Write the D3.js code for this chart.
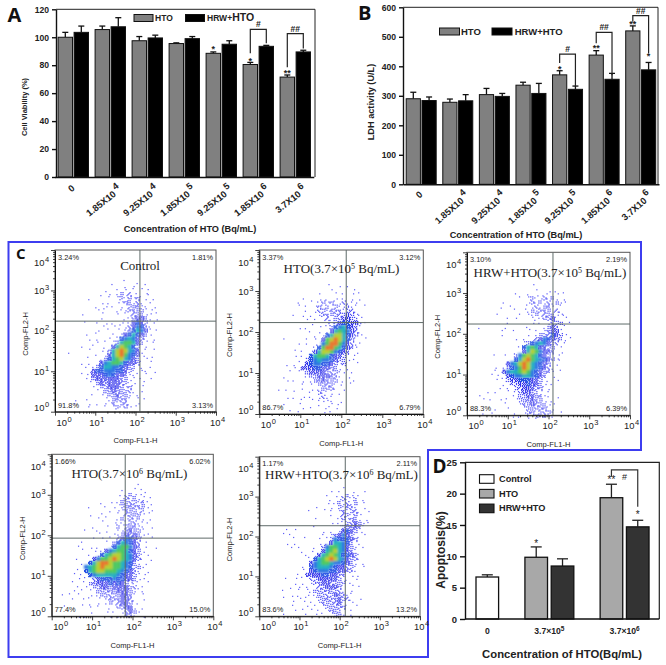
<!DOCTYPE html>
<html>
<head>
<meta charset="utf-8">
<script src="https://cdnjs.cloudflare.com/ajax/libs/d3/7.8.5/d3.min.js"></script>
<style>
  html, body { margin: 0; padding: 0; background: #fff; }
  svg { display: block; }
  text { font-family: "Liberation Sans", Arial, sans-serif; fill: #222; }
</style>
</head>
<body>
<svg id="fig" width="666" height="665"></svg>
<script>
// Panels A and B
const doseBase = ["0", "1.85X10", "9.25X10", "1.85X10", "9.25X10", "1.85X10", "3.7X10"];
const doseExp = ["", "4", "4", "5", "5", "6", "6"];

const viabilityHto = [100, 105.5, 97.5, 95.5, 88.5, 80.5, 71.5];
const viabilityHtoTop = [103.5, 108, 100.5, 96, 89.5, 82, 73];
const viabilityHrw = [103.5, 107.5, 99.5, 99, 95, 93.5, 89.5];
const viabilityHrwTop = [108, 114, 101.5, 100.5, 97.5, 94.2, 90.7];
const viabilityTicks = [0, 20, 40, 60, 80, 100, 120];
// group, serie, valeur du centre de l'étoile
const viabilityStars = [[4, 0, 92, "*"], [5, 0, 84, "*"], [6, 0, 75, "**"]];
// group, haut, bas gauche, bas droite, texte
const viabilityBrackets = [[5, 105.7, 88.6, 95.7, "#"], [6, 102.6, 78.6, 92, "##"]];

const ldhHto = [290, 278, 304, 336, 371, 438, 520];
const ldhHtoTop = [312, 289, 325, 346, 385, 453, 537];
const ldhHrw = [284, 283, 298, 308, 322, 356, 388];
const ldhHrwTop = [296, 304, 308, 342, 333, 376, 413];
const ldhTicks = [0, 100, 200, 300, 400, 500, 600];
const ldhStars = [[4, 0, 394, "*"], [5, 0, 466, "**"], [6, 0, 548, "**"], [6, 1, 438, "*"]];
const ldhBrackets = [[4, 441, 411, 333, "#"], [5, 515, 478, 370, "##"], [6, 572, 551, 445, "##"]];

// Panel D
const apoLabels = ["Control", "HTO", "HRW+HTO", "HTO", "HRW+HTO"];
const apoGroup = [0, 1, 1, 2, 2];
const apoValues = [6.7, 9.85, 8.45, 19.35, 14.7];
const apoTops = [7.05, 11.5, 9.6, 21.5, 15.75];
const apoTicks = [0, 5, 10, 15, 20, 25];
const apoGroupBase = ["0", "3.7×10", "3.7×10"];
const apoGroupExp = ["", "5", "6"];

// Panel C : textes
const flowTitles = [
  ["Control", "", ""],
  ["HTO(3.7×10", "5", " Bq/mL)"],
  ["HRW+HTO(3.7×10", "5", " Bq/mL)"],
  ["HTO(3.7×10", "6", " Bq/mL)"],
  ["HRW+HTO(3.7×10", "6", " Bq/mL)"]
];
const flowPct = [
  ["3.24%", "1.81%", "91.8%", "3.13%"],
  ["3.37%", "3.12%", "86.7%", "6.79%"],
  ["3.10%", "2.19%", "88.3%", "6.39%"],
  ["1.66%", "6.02%", "77.4%", "15.0%"],
  ["1.17%", "2.11%", "83.6%", "13.2%"]
];
// Position des quadrants en décades (FL1, FL2)
const flowGate = [[2.11, 2.24], [2.12, 2.23], [2.11, 2.24], [1.82, 1.93], [2.14, 2.27]];
// Origine des grilles de densité en décades (FL1 gauche, FL2 haut)
const flowOrigin = [[0.1, 3.26], [0.11, 3.27], [0.05, 3.32], [0.0, 3.37], [0.24, 3.39]];

// Densité lue à l'oeil sur l'image, cellules de 0.1 décade (. = vide, 9 = rouge)
const flowDensity = [
  [
    "................1..1.....",
    ".............1..1.1..1...",
    "...........1..1.1.1.1.1..",
    "..........1.1.1212.1.11..",
    ".......1....1.12121211.1.",
    "..........1.1.1122121.1..",
    ".........1.1.1.1122211.1.",
    ".........1.1..11122221.1.",
    ".....1....1...1.1122211.1",
    "..........1.....1123321.1",
    "......1..1.1.1.1.13432.1.",
    "...........1.1.11235421..",
    ".........1..1.1.1246531.1",
    "......1..1...1.13464321..",
    ".......1.1..1.14565321.1.",
    ".........1.1.126776321.1.",
    ".....1..1..1.3687642.1...",
    ".......1..1.26898653.1.1.",
    "..1......1.13689754311...",
    ".......1..1246786532.1.1.",
    ".....1.1..35677643321.1..",
    "......1.1246655432211.1..",
    ".......134455544321.11.1.",
    ".....1.1333454332111.1...",
    "......1.23333332211.1.1..",
    ".......1.2323332211..1...",
    "........1.223332121.1....",
    ".........1.22322221.1....",
    "........1.1.223221.1.....",
    "....1.1....1122221.1.1...",
    "...1...1.1.1.21221.1.....",
    ".......1...1.12121.1....."
  ],
  [
    "..............",
    "...............1..1.1....",
    "................1.....1..",
    ".............1...1.1.1.1.",
    ".........1...1.1.1.1.1.1.",
    "........1..1.1212112111..",
    "........1.1.12121211211.1",
    "..........1.12212221221..",
    ".......1.1.1.12222223211.",
    "..........1.1.1212233221.",
    "...........1...1123443311",
    "........1.1..1.124564321.",
    "...........1.1.136765321.",
    "............1.1468864321.",
    "....1.....1.1.378986421.1",
    "........1.1.1.5799753211.",
    "............14799764321..",
    ".......1.1.1368875432.1..",
    ".......1.1.4677643321.1..",
    "........1.245655432211...",
    ".....1.1..34554432121.1..",
    ".......1.3334433221.1....",
    "......1.1.2333322211.1...",
    "....1.....122333221.1....",
    ".....1.1.1.1223222.1.1...",
    ".........1.1.222211..1...",
    "...1.1...1.1.12221.1.....",
    ".......1...1.2111.1......",
    ".....1.1.1.1.1211........",
    ".........1.1.1111.1......",
    "....1...1....1.11.1......",
    "......1..1.1...1.1.......",
    "........1.....1.1........"
  ],
  [
    "..........",
    "...............1.........",
    "................1..1.1...",
    "...........1..1.1.11.1.1.",
    "............1.12112121.1.",
    "........1.....1212121211.",
    ".......1..1...1121221.1..",
    "...........1.1121222121..",
    "......1.....1.1121222111.",
    ".........1.1...1112231.1.",
    ".........1.....1.1.1222.1",
    "..1.....1.....1...1232.1.",
    "........1.1...1.1.12331..",
    "........1.....1.12224321.",
    "...........1.1.1235432211",
    ".............124565322.1.",
    "............146763322.1..",
    ".............36875332.1..",
    "......1.1..2578764321.1..",
    "...........468976543211..",
    ".........35689865432.1...",
    "......1.1245798654321....",
    "......1.3566787543221.1..",
    ".....1.1.3455665432.1....",
    "......1.1233444332.1.1...",
    "........1.223343321.1....",
    ".......1.1.223332211.....",
    "....1.1..1.1233221.1.....",
    "..1.......1.22332211.1...",
    "...1.1.1.1.12223221.1....",
    "........1...122322211....",
    "......1..1...12222211....",
    "...1.1.....1.12212221.1..",
    "..........1.1.1121211...."
  ],
  [
    "..................",
    ".....................1..",
    ".................1..1.1.",
    "................1.121.11.",
    ".................121211.1",
    "............1.1.12222121.",
    ".........1...1.1122222211",
    "..............1.1122212.1",
    ".........1..1...1122221.1.",
    "...........1.1..1212121.1.",
    "............1..1.1122111..",
    "..........1..1..2122211.1.",
    "........1..1.1..1123221..",
    "...........1...112323211..",
    "..........1.1.1.2354321.1.",
    ".......1.....1.2465432.1..",
    "......1..1.1..14677532.1.1",
    ".......1..1.13567764321...",
    ".........1.1467887653211..",
    "......1...3577898765321.1.",
    ".......1.4689987765421.1..",
    "........567898877654221...",
    "......1.46788777654321.1..",
    ".....1.1.4566666543321.1.",
    "......1.1.2344454433211...",
    ".....1.1.2233343432111.1..",
    "......1.1.2233233332211...",
    ".....1.1.1.2222233321.1..",
    "..1.1.1..1.1222223321.1...",
    ".....1.1.1.1.12223321.1..",
    ".......1.1.1.1212332.1....",
    "...1.....1.1..1.22331.1...",
    ".........1...1.1.12321....",
    "......1.1.....1.1.221.1..."
  ],
  [
    "..........",
    "..................1......",
    "...............1.1...1.1.",
    "..............1.1.121.1..",
    "...............1.12112.1.",
    "..............1.121212.1.",
    "...........1...1.21221.1.",
    ".........1...1.1.121221.1.",
    "...............1.122121...",
    "...........1.....121221.1.",
    "...............1.11223211.",
    "...........1.....1222321..",
    "....1.1......1.1.13432.1.",
    "...1.1.......1.1235321.1.",
    "......1.1...1.125444321..",
    "....1.1.....1.136654211..",
    ".....1.1...1.257765321.1.",
    "........1.1..367865321...",
    ".........1.136787644321..",
    ".........1.467898653221..",
    "..........356776554321.1.",
    "........1.456665433221.1.",
    "........1.345554433221...",
    ".......1.3333443322.1.1..",
    "....1.1.1.22333332.1.1...",
    "......1.1.122332222.1....",
    ".....1.1.1.12233321.1.1..",
    "...1...1.1122222221.1....",
    ".....1.1.1.1222232211....",
    "...1...1.1.1222223221.1..",
    "......1.1.1.1222231.1....",
    ".....1...1.1.1222221.1...",
    "......1.1.1.1.12221.1....",
    "...1.....1.1.1.1221.1...."
  ]
];

const flowDecades = [1, 10, 100, 1000, 10000];

const svg = d3.select("#fig");
const defs = svg.append("defs");
defs.append("filter").attr("id", "speck").append("feGaussianBlur").attr("stdDeviation", 0.3);
defs.append("filter").attr("id", "hot").append("feGaussianBlur").attr("stdDeviation", 0.9);

const BLUE = "#3d3df0";
const levelColors = ["#fff", "#5c5cf8", "#4444f4", "#3030ea", "#2450e4", "#2a72e4", "#22b0c0", "#4cc860", "#b4d030", "#e8742a"];
// Nombre de points de trame par cellule selon le niveau
const levelDots = [0, 1, 4, 8, 12];
// Ordre de remplissage d'une trame 4x4
const ditherOrder = [[0, 0], [2, 2], [2, 0], [0, 2], [1, 1], [3, 3], [3, 1], [1, 3], [1, 0], [3, 2], [3, 0], [1, 2], [0, 1], [2, 3], [2, 1], [0, 3]];

// Cadre bleu du panneau C
svg.append("path")
  .attr("d", "M8.5 242H641V450H428V657H8.5Z")
  .attr("fill", "none")
  .attr("stroke", BLUE)
  .attr("stroke-width", 2);

// ---- A et B
drawBars({
  box: [56, 315, 9.3, 177], bandRange: [54.8, 313.8], yMax: 120,
  ticks: viabilityTicks, hto: viabilityHto, htoTop: viabilityHtoTop, hrw: viabilityHrw, hrwTop: viabilityHrwTop,
  stars: viabilityStars, brackets: viabilityBrackets,
  yTitle: "Cell Viability (%)", yTitleSize: 7.5, yTitleX: 26.5, yTitleY: 107, xTitleX: 190, xTitleY: 232,
  labelDrop: 192, labelTurn: -38
});
drawBars({
  box: [403, 658, 7.3, 184.3], bandRange: [402.9, 659], yMax: 600,
  ticks: ldhTicks, hto: ldhHto, htoTop: ldhHtoTop, hrw: ldhHrw, hrwTop: ldhHrwTop,
  stars: ldhStars, brackets: ldhBrackets,
  yTitle: "LDH activity (U/L)", yTitleSize: 9.2, yTitleX: 374, yTitleY: 102, xTitleX: 516, xTitleY: 238,
  labelDrop: 198, labelTurn: -41
});

function drawBars(o) {
  const [left, right, top, bottom] = o.box;
  const x = d3.scaleBand().domain(d3.range(doseBase.length)).range(o.bandRange);
  const inner = d3.scaleBand().domain([0, 1]).range([3.3, x.bandwidth() - 3.3]).paddingInner(0.1);
  const y = d3.scaleLinear().domain([0, o.yMax]).range([bottom, top]);
  const g = svg.append("g");
  const rows = [
    { vals: o.hto, tops: o.htoTop, s: 0, fill: "#808080" },
    { vals: o.hrw, tops: o.hrwTop, s: 1, fill: "#000" }
  ];

  // Cadre haut et droite
  g.append("path").attr("d", `M${left} ${top}H${right}V${bottom}`)
    .attr("fill", "none").attr("stroke", "#222").attr("stroke-width", 1);

  rows.forEach(r => {
    const cx = i => x(i) + inner(r.s) + inner.bandwidth() / 2;
    const err = g.append("g").selectAll("g").data(r.vals).join("g");
    err.append("line")
      .attr("x1", (d, i) => cx(i)).attr("x2", (d, i) => cx(i))
      .attr("y1", d => y(d)).attr("y2", (d, i) => y(r.tops[i]))
      .attr("stroke", "#111").attr("stroke-width", 1.3);
    err.append("line")
      .attr("x1", (d, i) => cx(i) - 3).attr("x2", (d, i) => cx(i) + 3)
      .attr("y1", (d, i) => y(r.tops[i])).attr("y2", (d, i) => y(r.tops[i]))
      .attr("stroke", "#111").attr("stroke-width", 1.3);
    g.append("g").selectAll("rect").data(r.vals).join("rect")
      .attr("x", (d, i) => x(i) + inner(r.s))
      .attr("y", d => y(d))
      .attr("width", inner.bandwidth())
      .attr("height", d => bottom - y(d))
      .attr("fill", r.fill)
      .attr("stroke", "#111")
      .attr("stroke-width", 1);
  });

  // Axes
  const yAxis = g.append("g").attr("transform", `translate(${left},0)`)
    .call(d3.axisLeft(y).tickValues(o.ticks).tickSize(4).tickSizeOuter(0));
  yAxis.selectAll("path,line").attr("stroke", "#111").attr("stroke-width", 1.4);
  yAxis.selectAll("text").attr("font-size", 8.6).attr("font-weight", "bold");
  const xAxis = g.append("g").attr("transform", `translate(0,${bottom})`)
    .call(d3.axisBottom(x).tickSize(0).tickFormat(""));
  xAxis.select("path").attr("stroke", "#111").attr("stroke-width", 1.6);

  // Etiquettes inclinées
  const labels = g.append("g").selectAll("text").data(doseBase).join("text")
    .attr("transform", (d, i) => {
      const cx = x(i) + x.bandwidth() / 2;
      return i === 0 ? `translate(${cx},${o.labelDrop - 1})rotate(${o.labelTurn})` : `translate(${cx + 12},${o.labelDrop - 1})rotate(${o.labelTurn})`;
    })
    .attr("text-anchor", (d, i) => i === 0 ? "middle" : "end")
    .attr("font-size", 9.3).attr("font-weight", "bold");
  labels.append("tspan").text(d => d);
  labels.append("tspan").attr("dx", 2).attr("dy", -5).text((d, i) => doseExp[i]);

  g.append("text").attr("x", o.xTitleX).attr("y", o.xTitleY).attr("text-anchor", "middle")
    .attr("font-size", 9.2).attr("font-weight", "bold").text("Concentration of HTO (Bq/mL)");
  g.append("text").attr("transform", `translate(${o.yTitleX},${o.yTitleY})rotate(-90)`)
    .attr("text-anchor", "middle").attr("font-size", o.yTitleSize).attr("font-weight", "bold").text(o.yTitle);

  // Significativité
  const barCx = (grp, s) => x(grp) + inner(s) + inner.bandwidth() / 2;
  o.stars.forEach(s => {
    g.append("text").attr("x", barCx(s[0], s[1])).attr("y", y(s[2]) + 4)
      .attr("text-anchor", "middle").attr("font-size", 9).attr("font-weight", "bold").text(s[3]);
  });
  o.brackets.forEach(b => {
    g.append("path")
      .attr("d", `M${barCx(b[0], 0)} ${y(b[2])}V${y(b[1])}H${barCx(b[0], 1)}V${y(b[3])}`)
      .attr("fill", "none").attr("stroke", "#222").attr("stroke-width", 1.2);
    g.append("text").attr("x", (barCx(b[0], 0) + barCx(b[0], 1)) / 2).attr("y", y(b[1]) - 2)
      .attr("text-anchor", "middle").attr("font-size", 8.5).attr("font-weight", "bold").text(b[4]);
  });
}

// Légendes A et B
function legendBox(x0, y0, w, h, fill) {
  svg.append("rect").attr("x", x0).attr("y", y0).attr("width", w).attr("height", h)
    .attr("fill", fill).attr("stroke", "#111").attr("stroke-width", 1);
}
legendBox(134, 14.5, 19, 7, "#808080");
legendBox(185.5, 14.5, 19, 7, "#000");
svg.append("text").attr("x", 155).attr("y", 20.5).attr("font-size", 8.5).attr("font-weight", "bold").text("HTO");
const hrwA = svg.append("text").attr("x", 207).attr("y", 21).attr("font-weight", "bold");
hrwA.append("tspan").attr("font-size", 8.5).text("HRW+");
hrwA.append("tspan").attr("font-size", 10.5).text("HTO");
legendBox(439.5, 28, 20, 7, "#808080");
legendBox(492, 28, 20, 7, "#000");
svg.append("text").attr("x", 461).attr("y", 34.5).attr("font-size", 9.5).attr("font-weight", "bold").text("HTO");
svg.append("text").attr("x", 514.7).attr("y", 34.5).attr("font-size", 9.5).attr("font-weight", "bold").text("HRW+HTO");

// ---- C : cytométrie
const panelLayout = [
  [55, 216, 250, 411.7], [259.3, 423.3, 250, 414], [467, 630, 252.3, 415.3],
  [51.7, 213.3, 454.3, 616.3], [259.3, 420, 456.7, 616.3]
];
panelLayout.forEach((box, i) => drawFlow(box, i));

function drawFlow(box, idx) {
  const [left, right, top, bottom] = box;
  const x = d3.scaleLog().domain([1, 10000]).range([left, right]);
  const y = d3.scaleLog().domain([1, 10000]).range([bottom, top]);
  const g = svg.append("g");
  const [ox, oy] = flowOrigin[idx];

  // Nuage de densité : trame de points pour les faibles niveaux, aplat flou pour les forts
  const cells = [];
  flowDensity[idx].forEach((row, r) => {
    row.split("").forEach((ch, c) => {
      if (ch !== ".") cells.push({ r, c, level: +ch });
    });
  });
  const cellX = c => x(Math.pow(10, ox + 0.1 * c));
  const cellY = r => y(Math.pow(10, oy - 0.1 * r));
  const dots = [];
  cells.filter(d => d.level <= 4).forEach(d => {
    const shift = (d.r * 7 + d.c * 13) % 16;
    d3.range(levelDots[d.level]).forEach(k => {
      const [sx, sy] = ditherOrder[(k + shift) % 16];
      dots.push({ c: d.c + sx / 4, r: d.r + sy / 4, level: d.level });
    });
  });
  g.append("g").attr("filter", "url(#hot)")
    .selectAll("rect").data(cells.filter(d => d.level > 4).sort((a, b) => a.level - b.level)).join("rect")
    .attr("x", d => cellX(d.c))
    .attr("y", d => cellY(d.r))
    .attr("width", d => cellX(d.c + 1) - cellX(d.c) + 0.3)
    .attr("height", d => cellY(d.r + 1) - cellY(d.r) + 0.3)
    .attr("fill", d => levelColors[d.level]);
  g.append("g").attr("filter", "url(#speck)")
    .selectAll("rect").data(dots).join("rect")
    .attr("x", d => cellX(d.c))
    .attr("y", d => cellY(d.r))
    .attr("width", 1.2)
    .attr("height", 1.2)
    .attr("fill", d => levelColors[d.level]);

  // Cadre et quadrants
  g.append("rect").attr("x", left).attr("y", top).attr("width", right - left).attr("height", bottom - top)
    .attr("fill", "none").attr("stroke", "#555").attr("stroke-width", 1);
  const [gx, gy] = flowGate[idx];
  g.append("line").attr("x1", x(Math.pow(10, gx))).attr("x2", x(Math.pow(10, gx))).attr("y1", top).attr("y2", bottom)
    .attr("stroke", "#5e6a68").attr("stroke-width", 1);
  g.append("line").attr("x1", left).attr("x2", right).attr("y1", y(Math.pow(10, gy))).attr("y2", y(Math.pow(10, gy)))
    .attr("stroke", "#5e6a68").attr("stroke-width", 1);

  // Graduations log
  const minor = d3.range(0, 4).flatMap(k => d3.range(1, 10).map(m => m * Math.pow(10, k))).concat([10000]);
  const styleAxis = a => {
    a.select("path").attr("stroke", "#111");
    a.selectAll("line").attr("stroke", "#111").attr("stroke-width", 0.8)
      .each(function (d) {
        const major = flowDecades.includes(d);
        const el = d3.select(this);
        if (el.attr("x2") !== "0" && el.attr("x2") !== null) el.attr("x2", major ? -4 : -2);
        else el.attr("y2", major ? 4 : 2);
      });
    a.selectAll("text").remove();
  };
  g.append("g").attr("transform", `translate(0,${bottom})`)
    .call(d3.axisBottom(x).tickValues(minor).tickSizeOuter(0)).call(styleAxis);
  g.append("g").attr("transform", `translate(${left},0)`)
    .call(d3.axisLeft(y).tickValues(minor).tickSizeOuter(0)).call(styleAxis);

  // Etiquettes 10^n
  const decadeLabel = (sel, px, py) => {
    const t = sel.append("text").attr("x", px).attr("y", py).attr("text-anchor", "middle")
      .attr("font-size", 9.4).attr("fill", "#333");
    t.append("tspan").text("10");
    return t;
  };
  flowDecades.forEach((d, k) => {
    const tx = k === 0 ? x(d) + 9 : x(d) + 1.5;
    decadeLabel(g, tx, bottom + 14).append("tspan").attr("font-size", 7.5).attr("dy", -4).attr("dx", 0.5).text(k);
    const yTick = k === 0 ? y(d) - 4 : k === 4 ? y(d) + 12 : y(d);
    decadeLabel(g, left - 13.5, yTick + 3.5).append("tspan").attr("font-size", 7.5).attr("dy", -4).attr("dx", 0.5).text(k);
  });

  // Noms des axes
  g.append("text").attr("x", (left + right) / 2).attr("y", bottom + 31.5).attr("text-anchor", "middle")
    .attr("font-size", 7.6).attr("fill", "#333").text("Comp-FL1-H");
  g.append("text").attr("transform", `translate(${left - 27},${(top + bottom) / 2 + 3})rotate(-90)`)
    .attr("text-anchor", "middle").attr("font-size", 7.6).attr("fill", "#333").text("Comp-FL2-H");

  // Pourcentages des quadrants
  const p = flowPct[idx];
  const pct = (txt, px, py, anchor) => g.append("text").attr("x", px).attr("y", py).attr("text-anchor", anchor)
    .attr("font-size", 7.4).attr("fill", "#333").text(txt);
  pct(p[0], left + 3, top + 9.5, "start");
  pct(p[1], right - 3, top + 9.5, "end");
  pct(p[2], left + 3, bottom - 4, "start");
  pct(p[3], right - 3, bottom - 4, "end");

  // Titre
  const cx = idx === 0 ? 140 : [0, 341.5, 550, 129.5, 341.5][idx];
  const ty = [270, 273.3, 276.7, 478, 479][idx];
  const title = g.append("text").attr("x", cx).attr("y", ty).attr("text-anchor", "middle")
    .style("font-family", "'Liberation Serif', 'Times New Roman', serif").attr("font-size", 13).attr("fill", "#222");
  title.append("tspan").text(flowTitles[idx][0]);
  if (flowTitles[idx][1]) {
    title.append("tspan").attr("font-size", 8).attr("dy", -4).text(flowTitles[idx][1]);
    title.append("tspan").attr("dy", 4).text(flowTitles[idx][2]);
  }
}

// ---- D : apoptose
(function drawApoptosis() {
  const left = 465, right = 659.3, top = 462.3, bottom = 619;
  const slot = apoLabels.map((d, i) => i + 0.86 * apoGroup[i]);
  const x = d3.scaleLinear().domain([0, 1]).range([487.3, 513.6]);
  const y = d3.scaleLinear().domain([0, 25]).range([bottom, top]);
  const barW = 22.6;
  const fills = ["#fff", "#a8a8a8", "#333"];
  const g = svg.append("g");

  g.append("path").attr("d", `M${left} ${top}H${right}V${bottom}`)
    .attr("fill", "none").attr("stroke", "#222").attr("stroke-width", 1.2);

  const err = g.append("g").selectAll("g").data(apoValues).join("g");
  err.append("line").attr("x1", (d, i) => x(slot[i])).attr("x2", (d, i) => x(slot[i]))
    .attr("y1", d => y(d)).attr("y2", (d, i) => y(apoTops[i]))
    .attr("stroke", "#222").attr("stroke-width", 1.3);
  err.append("line").attr("x1", (d, i) => x(slot[i]) - 5.5).attr("x2", (d, i) => x(slot[i]) + 5.5)
    .attr("y1", (d, i) => y(apoTops[i])).attr("y2", (d, i) => y(apoTops[i]))
    .attr("stroke", "#222").attr("stroke-width", 1.3);
  g.append("g").selectAll("rect").data(apoValues).join("rect")
    .attr("x", (d, i) => x(slot[i]) - barW / 2)
    .attr("y", d => y(d))
    .attr("width", barW)
    .attr("height", d => bottom - y(d))
    .attr("fill", (d, i) => fills[apoLabels.indexOf(apoLabels[i])])
    .attr("stroke", "#111").attr("stroke-width", 1.3);

  const yAxis = g.append("g").attr("transform", `translate(${left},0)`)
    .call(d3.axisLeft(y).tickValues(apoTicks).tickSize(5).tickSizeOuter(0));
  yAxis.selectAll("path,line").attr("stroke", "#111").attr("stroke-width", 1.4);
  yAxis.selectAll("text").attr("font-size", 9.5).attr("font-weight", "bold");

  // Axe x : un tick par groupe
  const groupX = apoGroupBase.map((d, k) => d3.mean(slot.filter((s, i) => apoGroup[i] === k), s => x(s)));
  const xScale = d3.scaleOrdinal().domain(d3.range(3)).range(groupX);
  const xAxis = g.append("g").attr("transform", `translate(0,${bottom})`)
    .call(d3.axisBottom(xScale).tickSize(0).tickFormat(""));
  xAxis.select("path").attr("d", `M${left},0H${right}`).attr("stroke", "#111").attr("stroke-width", 1.4);
  const lab = g.append("g").selectAll("text").data(apoGroupBase).join("text")
    .attr("x", (d, k) => groupX[k]).attr("y", 634).attr("text-anchor", "middle")
    .attr("font-size", 8.6).attr("font-weight", "bold");
  lab.append("tspan").text(d => d);
  lab.append("tspan").attr("font-size", 6.5).attr("dy", -3).text((d, k) => apoGroupExp[k]);

  g.append("text").attr("x", 562).attr("y", 658).attr("text-anchor", "middle")
    .attr("font-size", 11.3).attr("font-weight", "bold").text("Concentration of HTO(Bq/mL)");
  g.append("text").attr("transform", `translate(445,550)rotate(-90)`).attr("text-anchor", "middle")
    .attr("font-size", 12).attr("font-weight", "bold").text("Apoptosis(%)");

  // Légende
  [0, 1, 2].forEach(k => {
    const ly = 474.7 + k * 14.7;
    g.append("rect").attr("x", 479.5).attr("y", ly).attr("width", 14.5).attr("height", 8.6)
      .attr("fill", fills[k]).attr("stroke", "#111").attr("stroke-width", 1.1);
    g.append("text").attr("x", 499).attr("y", ly + 7.2).attr("font-size", 9.2).attr("font-weight", "bold").text(apoLabels[k]);
  });

  // Significativité
  const star = (i, v, txt) => g.append("text").attr("x", x(slot[i])).attr("y", y(v) + 4).attr("text-anchor", "middle")
    .attr("font-size", 10).attr("fill", "#555").text(txt);
  star(1, 12.2, "*");
  star(3, 22.3, "**");
  star(4, 16.7, "*");
  g.append("path").attr("d", `M${x(slot[3])} ${y(22.7)}V${y(23.8)}H${x(slot[4])}V${y(17.9)}`)
    .attr("fill", "none").attr("stroke", "#333").attr("stroke-width", 1.2);
  g.append("text").attr("x", (x(slot[3]) + x(slot[4])) / 2).attr("y", y(22.1)).attr("text-anchor", "middle")
    .attr("font-size", 9).attr("fill", "#555").text("#");
})();

// Lettres des panneaux
const letters = [["A", 7.5, 22, 20], ["B", 358, 20, 20], ["C", 16, 259, 15], ["D", 432.5, 473, 19]];
svg.append("g").selectAll("text").data(letters).join("text")
  .attr("x", d => d[1]).attr("y", d => d[2])
  .attr("font-size", d => d[3])
  .attr("font-weight", "bold")
  .style("font-family", "'Open Sans', 'Liberation Sans', sans-serif")
  .style("fill", "#111")
  .text(d => d[0]);
</script>
</body>
</html>
